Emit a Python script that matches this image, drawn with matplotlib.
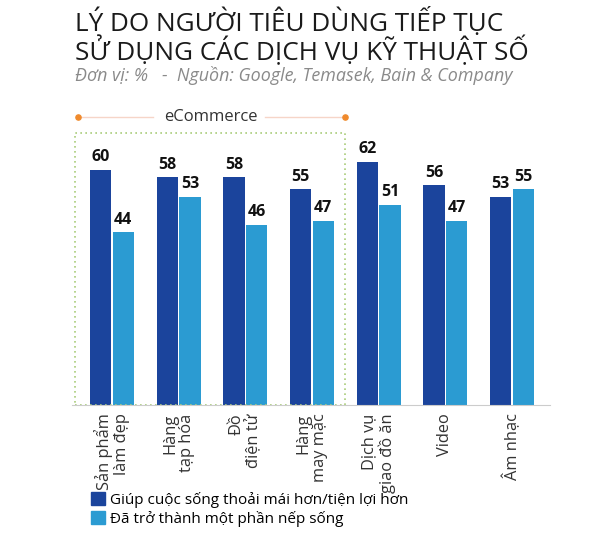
import matplotlib
matplotlib.use("Agg")
import matplotlib.pyplot as plt
import numpy as np
from matplotlib.patches import Rectangle, Patch

plt.rcParams['font.family'] = ['Open Sans', 'DejaVu Sans']

# du lieu
categories = ["Sản phẩm\nlàm đẹp", "Hàng\ntạp hóa", "Đồ\nđiện tử", "Hàng\nmay mặc",
              "Dịch vụ\ngiao đồ ăn", "Video", "Âm nhạc"]
tien_loi = [60, 58, 58, 55, 62, 56, 53]
nep_song = [44, 53, 46, 47, 51, 47, 55]
series_names = ["Giúp cuộc sống thoải mái hơn/tiện lợi hơn", "Đã trở thành một phần nếp sống"]

dark = '#1b449c'
light = '#2b9bd2'

fig = plt.figure(figsize=(6, 5.47), dpi=100)
ax = fig.add_axes([0.12, 0.2596, 0.7967, 0.5594])

x = np.arange(len(categories))
w = 0.32
b1 = ax.bar(x - 0.17, tien_loi, w, color=dark)
b2 = ax.bar(x + 0.17, nep_song, w, color=light)

for bars in (b1, b2):
    for r in bars:
        ax.text(r.get_x() + r.get_width() / 2, r.get_height() + 1.2, f"{r.get_height():.0f}",
                ha='center', va='bottom', fontsize=11.5, fontweight='bold', color='#111111')

ax.set_xlim(-0.6, 6.57)
ax.set_ylim(0, 78)
ax.set_yticks([])
for s in ['top', 'right', 'left']:
    ax.spines[s].set_visible(False)
ax.spines['bottom'].set_color('#cccccc')
ax.set_xticks(x)
ax.set_xticklabels(categories, rotation=90, fontsize=11.8, color='#333333',
                   ha='center', va='top', multialignment='right', linespacing=1.05)
ax.tick_params(axis='x', length=0, pad=6)

# khung eCommerce
ax.add_patch(Rectangle((-0.55, 0), 4.04, 69.4, fill=False, ec='#a9cc7a',
                       ls=(0, (1, 2)), lw=1.2, clip_on=False))
ax.plot([-0.51, 0.62], [73.5, 73.5], color='#f6d5c8', lw=1, clip_on=False)
ax.plot([2.3, 3.49], [73.5, 73.5], color='#f6d5c8', lw=1, clip_on=False)
ax.scatter([-0.51, 3.49], [73.5, 73.5], s=14, color='#f08a2c', zorder=3, clip_on=False)
ax.text(1.48, 73.5, "eCommerce", ha='center', va='center', fontsize=12, color='#333333')

# tieu de
fig.text(0.125, 1 - 31 / 547, "LÝ DO NGƯỜI TIÊU DÙNG TIẾP TỤC",
         ha='left', va='baseline', fontsize=18.8, color='#1a1a1a')
fig.text(0.125, 1 - 60 / 547, "SỬ DỤNG CÁC DỊCH VỤ KỸ THUẬT SỐ",
         ha='left', va='baseline', fontsize=18.8, color='#1a1a1a')
fig.text(0.125, 1 - 81 / 547, "Đơn vị: %   -  Nguồn: Google, Temasek, Bain & Company",
         ha='left', va='baseline', fontsize=12.9, style='italic', color='#8a8a8a')

handles = [Patch(color=dark), Patch(color=light)]
fig.legend(handles, series_names, loc='upper left', bbox_to_anchor=(0.152, 1 - 492 / 547),
           frameon=False, fontsize=11, handlelength=0.9, handleheight=0.9,
           handletextpad=0.3, labelspacing=0.2, borderaxespad=0, borderpad=0)

fig.savefig("out.png", dpi=100)
